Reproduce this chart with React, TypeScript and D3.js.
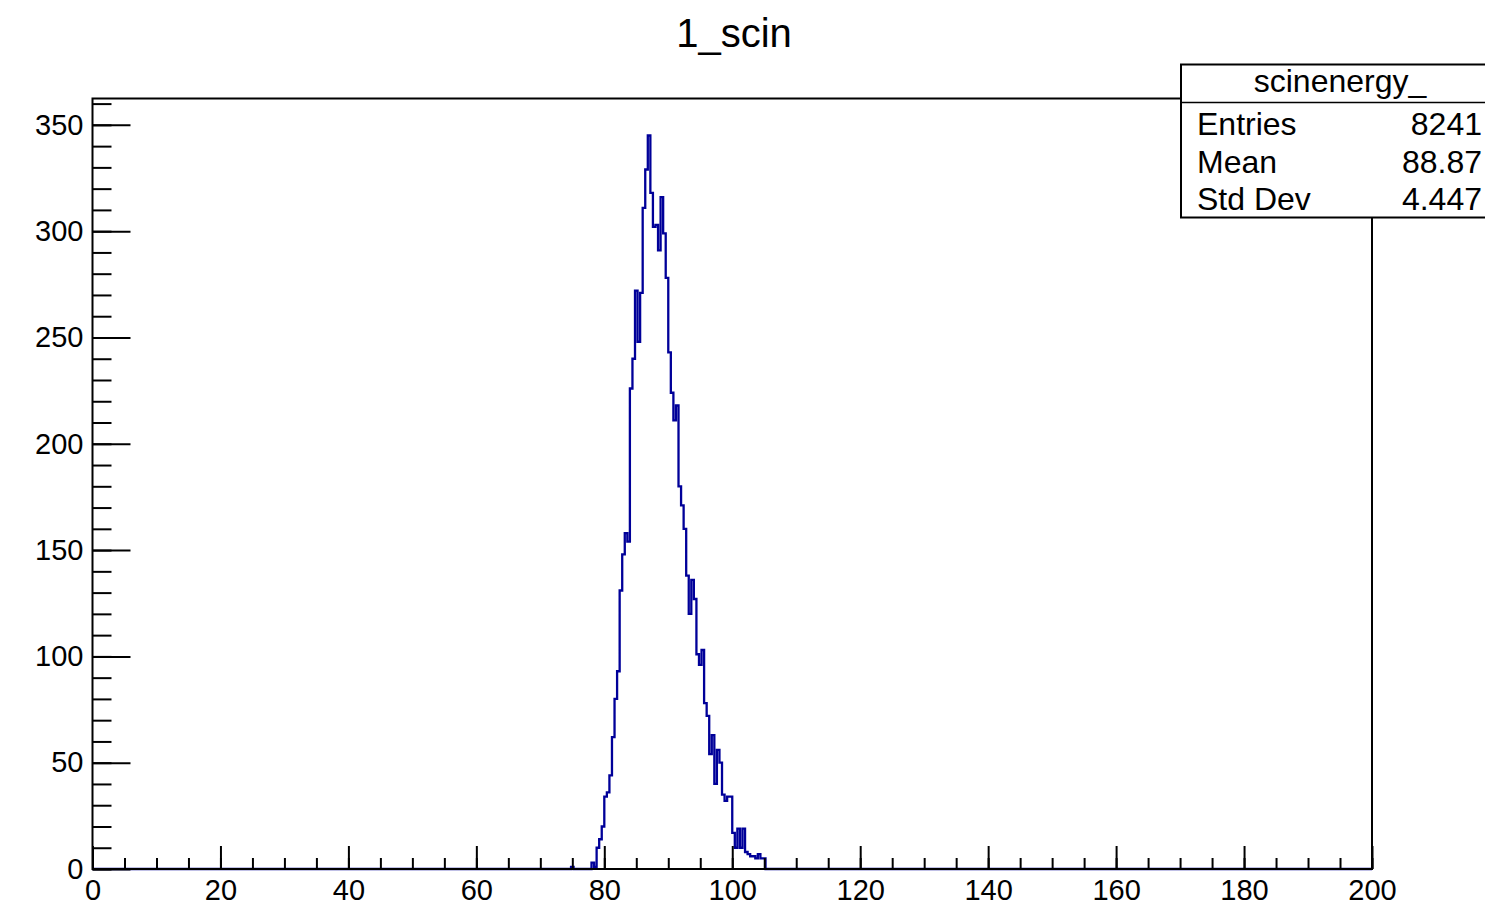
import React, { useEffect, useRef } from "react";
import * as d3 from "d3";

// histogram: 500 bins of 0.4 over [0, 200]; non-empty bins start at index 187 (74.8)
const binWidth = 0.4;
const nBins = 500;
const firstBin = 187;
const counts = [
  1, 0, 0, 0, 0, 0, 0, 0, 3, 1,
  10, 14, 20, 34, 36, 44, 62, 80, 93,
  131, 148, 158, 154, 226, 240, 272, 248, 271,
  311, 329, 345, 318, 302, 303, 291, 316, 299, 278,
  243, 224, 211, 218, 180, 171, 160, 138, 120, 136, 127,
  101, 96, 103, 78, 72, 54, 63, 40, 56, 50,
  35, 32, 34, 34, 17, 10, 19, 10, 19, 8,
  7, 6, 6, 5, 7, 5, 5
];

const title = "1_scin";
const statsName = "scinenergy_";
const statsLabels = ["Entries", "Mean", "Std Dev"];
const statsValues = ["8241", "88.87", "4.447"];

const xMajor = d3.range(0, 201, 20);
const xMinor = d3.range(0, 201, 5);
const yMajor = d3.range(0, 351, 50);
const yMinor = d3.range(0, 361, 10);

const W = 1485;
const H = 911;
const frame = { left: 92.5, right: 1372, top: 98.5, bottom: 869 };
const yTop = 362.4;
const font = "'Liberation Sans', Arial, Helvetica, sans-serif";

const draw = (node: SVGSVGElement) => {
  const svg = d3.select(node);
  svg.selectAll("*").remove();

  const x = d3.scaleLinear().domain([0, 200]).range([frame.left, frame.right]);
  const y = d3.scaleLinear().domain([0, yTop]).range([frame.bottom, frame.top]);

  const values = d3.range(nBins).map(i => {
    const k = i - firstBin;
    return k >= 0 && k < counts.length ? counts[k] : 0;
  });
  const pts: [number, number][] = values.map((v, i) => [i * binWidth, v]);
  pts.push([nBins * binWidth, values[nBins - 1]]);

  const line = d3
    .line<[number, number]>()
    .x(d => x(d[0]))
    .y(d => y(d[1]))
    .curve(d3.curveStepAfter);

  svg
    .append("path")
    .attr("d", line(pts))
    .attr("fill", "none")
    .attr("stroke", "#000099")
    .attr("stroke-width", 2.3);

  // y axis (minor and major ticks in separate groups)
  svg
    .append("g")
    .attr("transform", `translate(${frame.left},0)`)
    .call(
      d3.axisLeft(y).tickValues(yMinor).tickSizeInner(-19).tickSizeOuter(0).tickFormat(() => "")
    );
  svg
    .append("g")
    .attr("transform", `translate(${frame.left},0)`)
    .call(
      d3.axisLeft(y).tickValues(yMajor).tickSizeInner(-38).tickSizeOuter(0).tickPadding(9)
    );

  // x axis
  svg
    .append("g")
    .attr("transform", `translate(0,${frame.bottom})`)
    .call(
      d3.axisBottom(x).tickValues(xMinor).tickSizeInner(-11).tickSizeOuter(0).tickFormat(() => "")
    );
  svg
    .append("g")
    .attr("transform", `translate(0,${frame.bottom})`)
    .call(
      d3.axisBottom(x).tickValues(xMajor).tickSizeInner(-23).tickSizeOuter(0).tickPadding(10)
    );

  svg.selectAll(".domain").remove();
  svg.selectAll(".tick line").attr("stroke", "#000").attr("stroke-width", 2);
  svg
    .selectAll(".tick text")
    .attr("fill", "#000")
    .style("font-family", font)
    .style("font-size", "29px");

  // frame
  svg
    .append("rect")
    .attr("x", frame.left)
    .attr("y", frame.top)
    .attr("width", frame.right - frame.left)
    .attr("height", frame.bottom - frame.top)
    .attr("fill", "none")
    .attr("stroke", "#000")
    .attr("stroke-width", 2);

  // title
  svg
    .append("text")
    .attr("x", 734)
    .attr("y", 47)
    .attr("text-anchor", "middle")
    .style("font-family", font)
    .style("font-size", "40px")
    .text(title);

  // stats box
  const box = svg.append("g");
  box
    .append("rect")
    .attr("x", 1181)
    .attr("y", 64.5)
    .attr("width", 320)
    .attr("height", 153)
    .attr("fill", "#fff")
    .attr("stroke", "#000")
    .attr("stroke-width", 2);
  box
    .append("line")
    .attr("x1", 1181)
    .attr("x2", 1500)
    .attr("y1", 102.5)
    .attr("y2", 102.5)
    .attr("stroke", "#000")
    .attr("stroke-width", 1.6);
  box
    .append("text")
    .attr("x", 1340)
    .attr("y", 92)
    .attr("text-anchor", "middle")
    .style("font-family", font)
    .style("font-size", "32px")
    .text(statsName);
  statsLabels.forEach((lab, i) => {
    const by = 135 + i * 37.5;
    box
      .append("text")
      .attr("x", 1197)
      .attr("y", by)
      .style("font-family", font)
      .style("font-size", "32px")
      .text(lab);
    box
      .append("text")
      .attr("x", 1482)
      .attr("y", by)
      .attr("text-anchor", "end")
      .style("font-family", font)
      .style("font-size", "32px")
      .text(statsValues[i]);
  });
};

const App = () => {
  const ref = useRef<SVGSVGElement>(null);
  useEffect(() => {
    if (ref.current) draw(ref.current);
  }, []);
  return (
    <svg
      ref={ref}
      width={W}
      height={H}
      style={{ position: "absolute", left: 0, top: 0, background: "#fff" }}
    />
  );
};

export default App;
